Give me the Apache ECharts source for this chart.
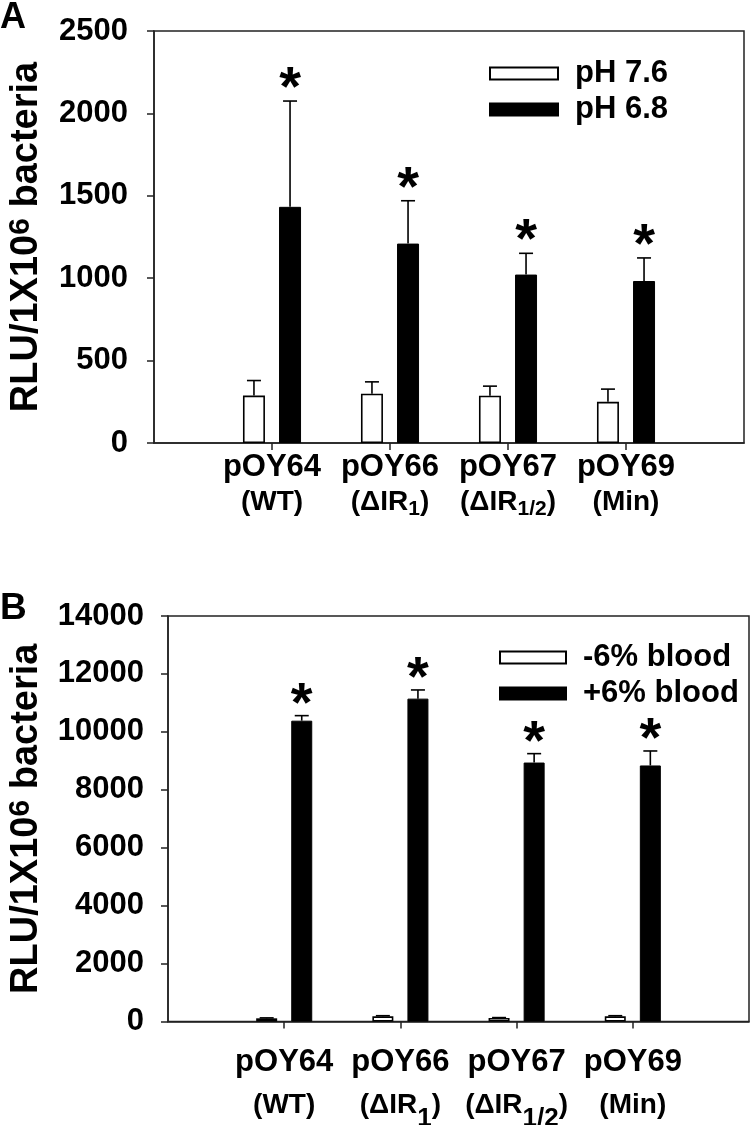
<!DOCTYPE html>
<html><head><meta charset="utf-8">
<script src="https://cdn.jsdelivr.net/npm/echarts@6/dist/echarts.min.js"></script>
<style>html,body{margin:0;padding:0;background:#fff}#c{width:750px;height:1125px}</style>
</head><body><div id="c"></div>
<script>
// ---- data ----
const strains = ['pOY64', 'pOY66', 'pOY67', 'pOY69'];
const constructs = ['WT', 'ΔIR_1', 'ΔIR_1/2', 'Min'];   // "_" marks a subscript

const yTicksA = [0, 500, 1000, 1500, 2000, 2500];
const ph76 = [288, 299, 287, 250];
const ph76Err = [91, 72, 58, 77];
const ph68 = [1433, 1210, 1022, 983];
const ph68Err = [642, 260, 129, 140];

const yTicksB = [0, 2000, 4000, 6000, 8000, 10000, 12000, 14000];
const noBlood = [110, 180, 120, 180];
const noBloodErr = [15, 20, 15, 20];
const blood = [10386, 11147, 8940, 8840];
const bloodErr = [174, 300, 308, 500];

// ---- helpers ----
const FONT = "'Liberation Sans', Arial, sans-serif";
const cats = [''].concat(strains, ['']);
const pad = arr => [null].concat(arr, [null]);

function xLabel(val) {
  const k = strains.indexOf(val);
  if (k < 0) return '';
  const parts = constructs[k].split('_');
  let second = '{b|(' + parts[0] + '}';
  if (parts.length > 1) second += '{s|' + parts[1] + '}';
  second += '{b|)}';
  return '{a|' + val + '}\n' + second;
}

const STAR = 56;
function errSeries(name, xi, yi, vals, errs, star, barOffset, starGap) {
  return {
    type: 'custom', name: name + '_err', xAxisIndex: xi, yAxisIndex: yi, z: 5,
    data: vals.map((v, i) => [i + 1, v, errs[i]]),
    renderItem: function (params, api) {
      const i = api.value(0), v = api.value(1), e = api.value(2);
      const b = api.coord([i, v]);
      const t = api.coord([i, v + e]);
      const x = b[0] + barOffset;
      const ch = [
        {type: 'line', shape: {x1: x, y1: b[1], x2: x, y2: t[1]}, style: {stroke: '#000', lineWidth: 1.6}},
        {type: 'line', shape: {x1: x - 7, y1: t[1], x2: x + 7, y2: t[1]}, style: {stroke: '#000', lineWidth: 1.6}}
      ];
      if (star) {
        ch.push({type: 'text', style: {text: '*', x: x, y: t[1] - starGap + STAR * 0.17, textAlign: 'center',
          textVerticalAlign: 'middle', font: 'bold ' + STAR + 'px ' + FONT, fill: '#000'}});
      }
      return {type: 'group', children: ch};
    }
  };
}

const axisLineStyle = {color: '#222', width: 1.5};
const yLabel = {fontSize: 31, fontWeight: 'bold', color: '#000', fontFamily: FONT, formatter: v => String(v)};
const yName = '{m|RLU/1X10}{s|6}{m| bacteria}';
const yNameStyle = {rich: {
  m: {fontSize: 38, fontWeight: 'bold', color: '#000', fontFamily: FONT, lineHeight: 42},
  s: {fontSize: 30, fontWeight: 'bold', color: '#000', fontFamily: FONT, lineHeight: 30, verticalAlign: 'top'}
}};

function xAxis(gi, margin, l1, l2, subSize, subLH) {
  return {
    type: 'category', gridIndex: gi, data: cats, boundaryGap: false,
    axisLine: {lineStyle: axisLineStyle},
    axisTick: {length: 7, lineStyle: axisLineStyle, interval: (i) => i >= 1 && i <= 4},
    axisLabel: {interval: 0, margin: margin, formatter: xLabel,
      rich: {
        a: {fontSize: 31, fontWeight: 'bold', color: '#000', fontFamily: FONT, lineHeight: l1},
        b: {fontSize: 28, fontWeight: 'bold', color: '#000', fontFamily: FONT, lineHeight: l2},
        s: {fontSize: subSize, fontWeight: 'bold', color: '#000', fontFamily: FONT, lineHeight: subLH, verticalAlign: 'bottom'}
      }}
  };
}

function yAxis(gi, ticks, margin, gap) {
  return {
    type: 'value', gridIndex: gi, min: ticks[0], max: ticks[ticks.length - 1],
    interval: ticks[1] - ticks[0],
    splitLine: {show: false},
    axisLine: {show: true, lineStyle: axisLineStyle},
    axisTick: {show: true, length: 7, lineStyle: axisLineStyle},
    axisLabel: Object.assign({margin: margin}, yLabel),
    name: yName, nameLocation: 'middle', nameRotate: 90, nameGap: gap, nameTextStyle: yNameStyle
  };
}

const BW_A = 22, GAP_A = 0.64, OFF_A = BW_A * (1 + GAP_A) / 2;
const BW_B = 21, GAP_B = 0.67, OFF_B = BW_B * (1 + GAP_B) / 2;

const whiteStyle = {color: '#fff', borderColor: '#000', borderWidth: 1.6};
const blackStyle = {color: '#000', borderColor: '#000', borderWidth: 1};

function legend(left, top, names, w) {
  return {
    left: left, top: top, orient: 'vertical', icon: 'rect', itemWidth: w, itemHeight: 12,
    itemGap: 5, selectedMode: false, data: names, padding: 0,
    formatter: n => '{t|' + n + '}',
    textStyle: {fontSize: 31, fontWeight: 'bold', color: '#000', fontFamily: FONT,
      rich: {t: {fontSize: 31, fontWeight: 'bold', color: '#000', fontFamily: FONT, padding: [0, 0, 0, 12]}}}
  };
}

const option = {
  animation: false,
  backgroundColor: '#fff',
  title: [
    {text: 'A', left: 0, top: 0, padding: 0, textStyle: {fontSize: 36, fontWeight: 'bold', color: '#000', fontFamily: FONT}},
    {text: 'B', left: 0, top: 590, padding: 0, textStyle: {fontSize: 37, fontWeight: 'bold', color: '#000', fontFamily: FONT}}
  ],
  legend: [legend(489, 58, ['pH 7.6', 'pH 6.8'], 68), legend(499, 642, ['-6% blood', '+6% blood'], 66)],
  grid: [
    {left: 154, top: 31, width: 590, height: 412, show: true, borderColor: '#222', borderWidth: 1.5,
     containLabel: false, outerBoundsMode: 'none'},
    {left: 168, top: 616, width: 581, height: 405.5, show: true, borderColor: '#222', borderWidth: 1.5,
     containLabel: false, outerBoundsMode: 'none'}
  ],
  xAxis: [xAxis(0, 7, 34, 36, 21, 21), xAxis(1, 24, 34, 52, 26, 26)],
  yAxis: [yAxis(0, yTicksA, 26, 106), yAxis(1, yTicksB, 24, 120)],
  series: [
    {type: 'bar', name: 'pH 7.6', xAxisIndex: 0, yAxisIndex: 0, data: pad(ph76), barWidth: BW_A, barGap: (GAP_A * 100) + '%', itemStyle: whiteStyle},
    {type: 'bar', name: 'pH 6.8', xAxisIndex: 0, yAxisIndex: 0, data: pad(ph68), barWidth: BW_A, barGap: (GAP_A * 100) + '%', itemStyle: blackStyle},
    errSeries('pH 7.6', 0, 0, ph76, ph76Err, false, -OFF_A, 0),
    errSeries('pH 6.8', 0, 0, ph68, ph68Err, true, OFF_A, 21),
    {type: 'bar', name: '-6% blood', xAxisIndex: 1, yAxisIndex: 1, data: pad(noBlood), barWidth: BW_B, barGap: (GAP_B * 100) + '%', itemStyle: whiteStyle},
    {type: 'bar', name: '+6% blood', xAxisIndex: 1, yAxisIndex: 1, data: pad(blood), barWidth: BW_B, barGap: (GAP_B * 100) + '%', itemStyle: blackStyle},
    errSeries('-6% blood', 1, 1, noBlood, noBloodErr, false, -OFF_B, 0),
    errSeries('+6% blood', 1, 1, blood, bloodErr, true, OFF_B, 20)
  ]
};
const chart = echarts.init(document.getElementById('c'), null, {renderer: 'canvas'});
chart.setOption(option);
</script>
</body></html>
